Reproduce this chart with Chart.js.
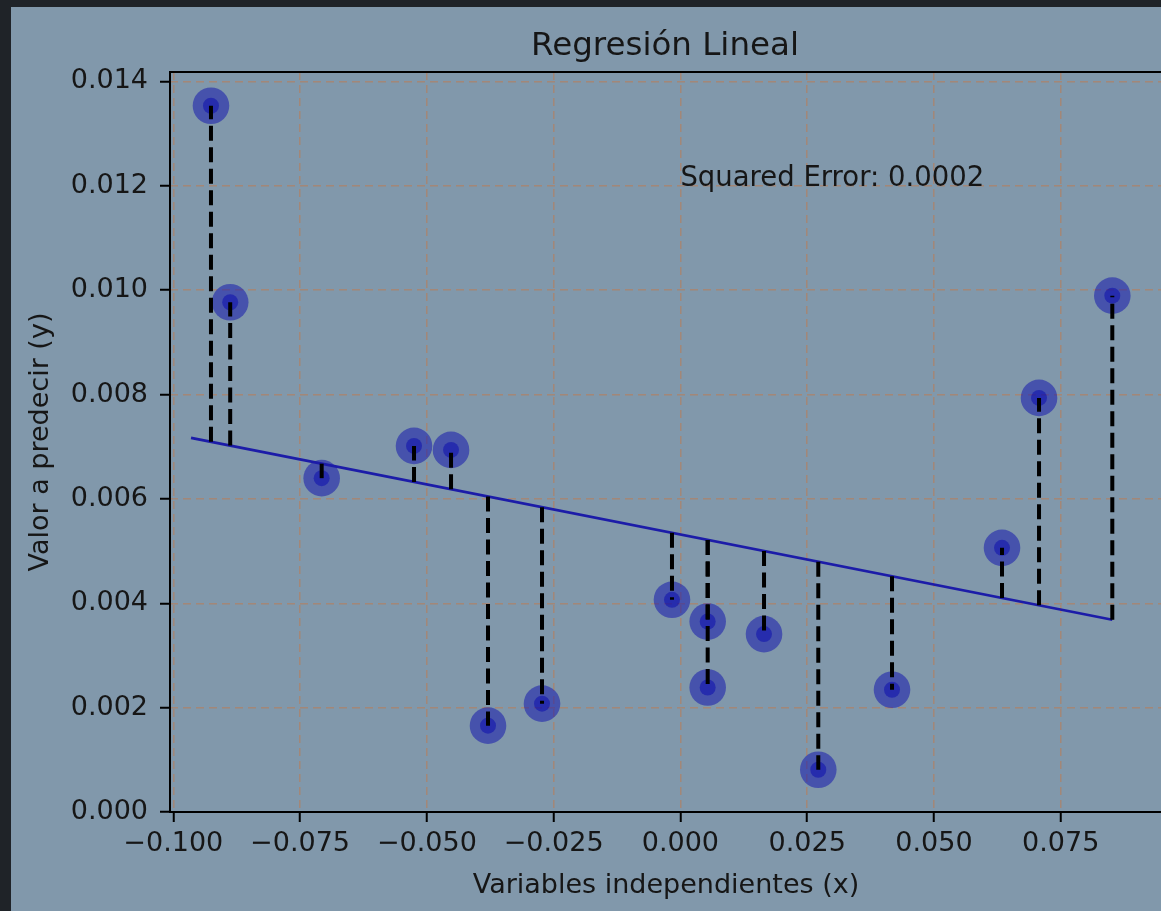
<!DOCTYPE html>
<html>
<head>
<meta charset="utf-8">
<script src="https://cdn.jsdelivr.net/npm/chart.js@4/dist/chart.umd.min.js"></script>
<style>
  html, body { margin: 0; padding: 0; overflow: hidden; background: #1f2328; width: 1161px; height: 911px; }
  #wrap { position: absolute; left: 0; top: 0; width: 1200px; height: 911px; }
  canvas { display: block; }
</style>
</head>
<body>
<div id="wrap"><canvas id="c" width="1200" height="911"></canvas></div>
<script>
// ---- data ----
const X_VALUES = [-0.09257, -0.08878, -0.07074, -0.05253, -0.04523, -0.03794, -0.02729, -0.00166, 0.00538, 0.00538, 0.01649, 0.02719, 0.04173, 0.06342, 0.07072, 0.08517];
const Y_VALUES = [0.013533, 0.009768, 0.006397, 0.007015, 0.006939, 0.001655, 0.002076, 0.004066, 0.003650, 0.002386, 0.003409, 0.000810, 0.002342, 0.005062, 0.007935, 0.009894];
const Y_PRED   = [0.007094, 0.007021, 0.006675, 0.006325, 0.006185, 0.006045, 0.005841, 0.005349, 0.005214, 0.005214, 0.005001, 0.004796, 0.004517, 0.004100, 0.003960, 0.003683];
const LINE_X = [-0.0965, 0.08517];
const LINE_Y = [0.007169, 0.003683];
const X_TICKS = [-0.1, -0.075, -0.05, -0.025, 0, 0.025, 0.05, 0.075];
const Y_TICKS = [0, 0.002, 0.004, 0.006, 0.008, 0.010, 0.012, 0.014];
const X_LIMITS = [-0.10065, 0.09497];
const Y_LIMITS = [0, 0.01418];
const TITLE = 'Regresión Lineal';
const X_LABEL = 'Variables independientes (x)';
const Y_LABEL = 'Valor a predecir (y)';
const ANNOTATION = 'Squared Error: 0.0002';
const ANNOTATION_POS = [0.0, 0.012];

// ---- styling ----
const FONT = "'DejaVu Sans', 'Liberation Sans', sans-serif";
const TEXT = '#161616';
const PANEL = '#8198ab';
const GRID = 'rgba(178,128,98,0.7)';
const MARK = 'rgba(0,0,175,0.46)';

const points = X_VALUES.map((x, i) => ({ x, y: Y_VALUES[i] }));
const residualSets = X_VALUES.map((x, i) => ({
  label: 'res' + i,
  data: [{ x, y: Y_PRED[i] }, { x, y: Y_VALUES[i] }],
  showLine: true,
  borderColor: '#000',
  borderWidth: 4,
  borderDash: [15, 6.5],
  borderCapStyle: 'butt',
  pointRadius: 0,
  pointHoverRadius: 0,
  fill: false
}));

const bgPlugin = {
  id: 'bg',
  beforeDraw(chart) {
    const ctx = chart.ctx;
    ctx.save();
    ctx.fillStyle = '#1f2328';
    ctx.fillRect(0, 0, chart.width, chart.height);
    ctx.fillStyle = PANEL;
    ctx.fillRect(11, 7, chart.width - 11, chart.height - 7);
    ctx.restore();
  },
  afterDraw(chart) {
    const ctx = chart.ctx;
    const a = chart.chartArea;
    ctx.save();
    ctx.setLineDash([]);
    ctx.strokeStyle = '#000';
    ctx.lineWidth = 2;
    ctx.strokeRect(a.left, a.top, a.right - a.left, a.bottom - a.top);
    // title
    ctx.fillStyle = TEXT;
    ctx.font = '32.5px ' + FONT;
    ctx.textAlign = 'center';
    ctx.textBaseline = 'alphabetic';
    ctx.fillText(TITLE, (a.left + a.right) / 2 - 1, 55);
    // annotation
    ctx.font = '27.5px ' + FONT;
    ctx.textAlign = 'left';
    const xs = chart.scales.x, ys = chart.scales.y;
    ctx.fillText(ANNOTATION, xs.getPixelForValue(ANNOTATION_POS[0]), ys.getPixelForValue(ANNOTATION_POS[1]));
    ctx.restore();
  }
};

const fmtX = v => (v < 0 ? '\u2212' : '') + Math.abs(v).toFixed(3);
const fmtY = v => v.toFixed(3);

new Chart(document.getElementById('c'), {
  type: 'scatter',
  data: {
    datasets: [
      ...residualSets,
      {
        label: 'line',
        data: LINE_X.map((x, i) => ({ x, y: LINE_Y[i] })),
        showLine: true,
        borderColor: 'rgb(28,28,168)',
        borderWidth: 2.7,
        pointRadius: 0,
        pointHoverRadius: 0
      },
      {
        label: 'inner',
        data: points,
        backgroundColor: MARK,
        borderWidth: 0,
        pointRadius: 8,
        pointHoverRadius: 8
      },
      {
        label: 'outer',
        data: points,
        backgroundColor: MARK,
        borderWidth: 0,
        pointRadius: 18.3,
        pointHoverRadius: 18.3
      }
    ]
  },
  options: {
    responsive: false,
    animation: false,
    devicePixelRatio: 1,
    events: [],
    layout: { padding: { top: 72, right: 38, left: 0, bottom: 0 } },
    plugins: { legend: { display: false }, title: { display: false }, tooltip: { enabled: false } },
    scales: {
      x: {
        type: 'linear',
        min: X_LIMITS[0],
        max: X_LIMITS[1],
        afterBuildTicks: s => { s.ticks = X_TICKS.map(v => ({ value: v })); },
        afterFit: s => { s.height = 99; },
        ticks: {
          callback: v => fmtX(v),
          color: TEXT,
          font: { family: FONT, size: 27 },
          padding: 5.5,
          autoSkip: false,
          maxRotation: 0,
          minRotation: 0
        },
        grid: {
          color: GRID,
          lineWidth: 1.5,
          tickColor: '#000',
          tickLength: 10,
          tickWidth: 2,
          tickBorderDash: [],
          drawTicks: true
        },
        border: { display: false, dash: [8, 5] },
        title: {
          display: true,
          text: X_LABEL,
          color: TEXT,
          font: { family: FONT, size: 27 },
          padding: { top: 0, bottom: 9 }
        }
      },
      y: {
        type: 'linear',
        min: Y_LIMITS[0],
        max: Y_LIMITS[1],
        afterBuildTicks: s => { s.ticks = Y_TICKS.map(v => ({ value: v })); },
        afterFit: s => { s.width = 170; },
        ticks: {
          callback: v => fmtY(v),
          color: TEXT,
          font: { family: FONT, size: 27 },
          padding: 12,
          autoSkip: false
        },
        grid: {
          color: GRID,
          lineWidth: 1.5,
          tickColor: '#000',
          tickLength: 10,
          tickWidth: 2,
          tickBorderDash: [],
          drawTicks: true
        },
        border: { display: false, dash: [8, 5] },
        title: {
          display: true,
          text: Y_LABEL,
          color: TEXT,
          font: { family: FONT, size: 27 },
          padding: { top: 25, bottom: 0 }
        }
      }
    }
  },
  plugins: [bgPlugin]
});
</script>
</body>
</html>
